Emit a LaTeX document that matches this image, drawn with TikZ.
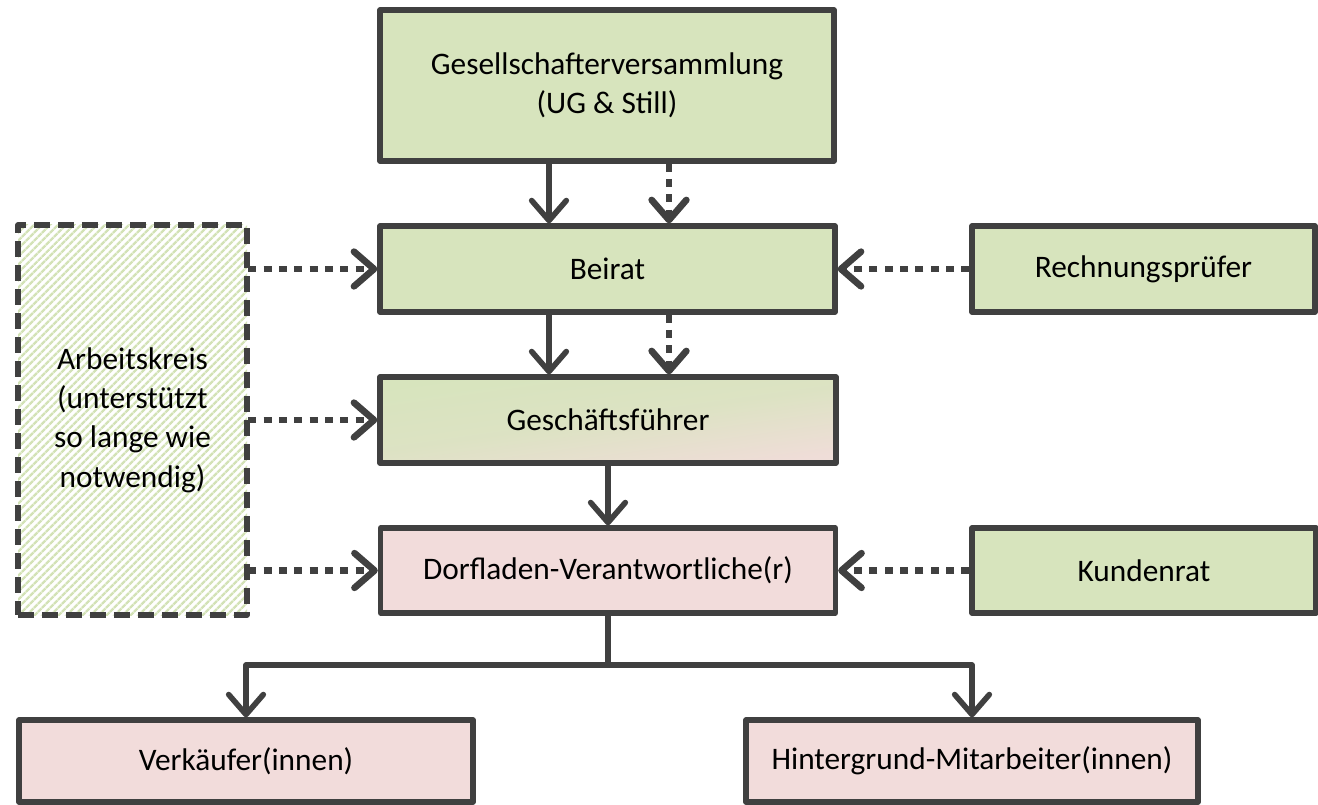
\documentclass[tikz,border=0pt]{standalone}
\usepackage{fontspec}
\setmainfont{Carlito}
\usetikzlibrary{arrows.meta,patterns.meta}
\definecolor{grn}{HTML}{D7E4BD}
\definecolor{pnk}{HTML}{F2DCDB}
\definecolor{edgec}{HTML}{404040}
\definecolor{hatchc}{HTML}{D3E2B6}
\begin{document}
\begin{tikzpicture}[x=0.75pt,y=-0.75pt,
  font=\fontsize{23.5pt}{29.5pt}\selectfont,
  box/.style={draw=edgec, line width=4pt, rectangle, inner sep=0pt, align=center, text=black, line join=round},
  gbox/.style={box, fill=grn},
  pbox/.style={box, fill=pnk},
  arr/.style={draw=edgec, line width=4.2pt, line join=round, -{Straight Barb[length=15pt,width=26pt,round]}},
  darr/.style={arr, line width=5pt, dash pattern=on 6pt off 5.5pt},
]
\useasboundingbox (0,0) rectangle (1318,805);

\node[gbox, minimum width=340.5pt, minimum height=113.25pt] (gv) at (607,85.5) {Gesellschafterversammlung\\(UG \& Still)};
\node[gbox, minimum width=341.25pt, minimum height=64.5pt] (beirat) at (607.5,269) {Beirat};
\node[gbox, minimum width=257.25pt, minimum height=64.5pt] (rp) at (1143.5,269) {Rechnungsprüfer};
\node[box, top color=grn, bottom color=pnk!90!grn, middle color=grn!80!pnk, shading angle=8,
      minimum width=342pt, minimum height=64.5pt] (gf) at (608,420) {Geschäftsführer};
\node[pbox, minimum width=341.25pt, minimum height=63.75pt] (dl) at (608,570.5) {Dorfladen-Verantwortliche(r)};
\node[gbox, minimum width=258pt, minimum height=63.75pt] (kr) at (1144,570.5) {Kundenrat};
\node[box, pattern={Lines[angle=45,distance=4pt,line width=2pt]}, pattern color=hatchc,
      dash pattern=on 12pt off 6pt, minimum width=171.75pt, minimum height=292.5pt] (ak) at (132.5,420)
      {Arbeitskreis\\(unterstützt\\so lange wie\\notwendig)};
\node[pbox, minimum width=340.5pt, minimum height=61.5pt] (vk) at (246,761) {Verkäufer(innen)};
\node[pbox, minimum width=339pt, minimum height=61.5pt] (hg) at (972,761) {Hintergrund-Mitarbeiter(innen)};

\coordinate (c1) at (549,0);
\coordinate (c2) at (669,0);
\coordinate (br) at (608,665);

\draw[arr] (gv.south -| c1) -- (beirat.north -| c1);
\draw[darr] (gv.south -| c2) -- (beirat.north -| c2);
\draw[arr] (beirat.south -| c1) -- (gf.north -| c1);
\draw[darr] (beirat.south -| c2) -- (gf.north -| c2);
\draw[arr] (gf.south) -- (dl.north);

\draw[darr] (ak.east |- beirat.west) -- (beirat.west);
\draw[darr] (ak.east |- gf.west) -- (gf.west);
\draw[darr] (ak.east |- dl.west) -- (dl.west);
\draw[darr] (rp.west) -- (beirat.east);
\draw[darr] (kr.west) -- (dl.east);

\draw[arr] (dl.south) -- (br) -| (vk.north);
\draw[arr] (br) -| (hg.north);
\end{tikzpicture}
\end{document}
